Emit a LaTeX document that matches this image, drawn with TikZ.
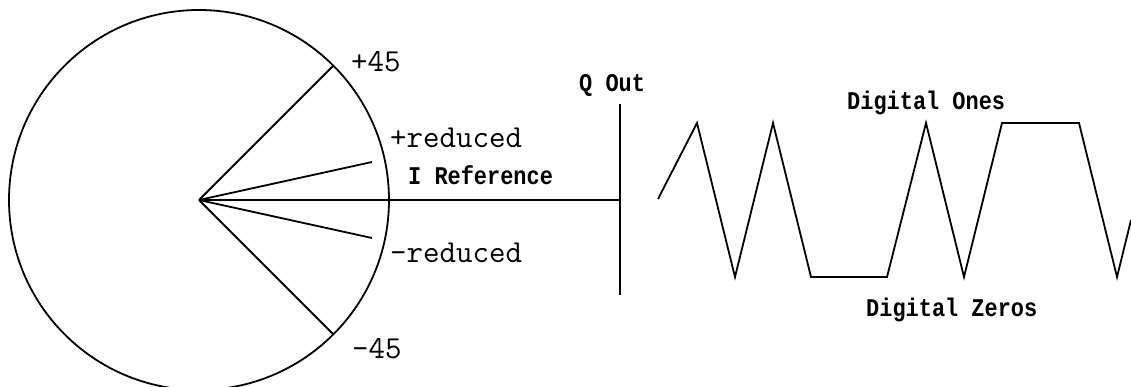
\documentclass[tikz,border=0pt]{standalone}
\usepackage{fontspec}
\usepackage{graphicx}
\newfontfamily\lblfont{Liberation Mono}
\newcommand{\narrowtxt}[1]{\scalebox{0.86}[1]{#1}}
\tikzset{
  wire/.style={line width=1.8pt, line join=miter},
  plainlbl/.style={anchor=base west, inner sep=0pt, font=\ttfamily\fontsize{32}{35}\selectfont},
  boldlbl/.style={anchor=base west, inner sep=0pt, font=\lblfont\bfseries\fontsize{25.5}{28}\selectfont},
}
\begin{document}
\begin{tikzpicture}[x=1pt,y=-1pt]
\useasboundingbox (0,0) rectangle (1131,387);
% phase circle
\coordinate (O) at (199,200);
\node[wire, draw, circle, minimum size=380pt, inner sep=0pt, outer sep=0pt] (C) at (O) {};
\coordinate (p45) at (C.45);
\coordinate (m45) at (C.-45);
\coordinate (pred) at (372,162);
\coordinate (mred) at (372,238);
\coordinate (Iend) at (620,200);
\coordinate (Qtop) at (620,104);
\coordinate (Qbot) at (620,295);
\draw[wire] (O) -- (p45);
\draw[wire] (O) -- (m45);
\draw[wire] (O) -- (pred);
\draw[wire] (O) -- (mred);
\draw[wire] (O) -- (Iend);
\draw[wire] (Qtop) -- (Qbot);
% labels
\node[plainlbl] (l45) at (351,72) {+45};
\node[plainlbl] (lpr) at (390,148) {+reduced};
\node[plainlbl] (lmr) at (390,262) {-reduced};
\node[plainlbl] (lm45) at (352,358) {-45};
\node[boldlbl] (lI) at (408,185) {\narrowtxt{I Reference}};
\node[boldlbl] (lQ) at (579,92) {\narrowtxt{Q Out}};
\node[boldlbl] (lOnes) at (847,110) {\narrowtxt{Digital Ones}};
\node[boldlbl] (lZeros) at (866,316) {\narrowtxt{Digital Zeros}};
% waveform
\coordinate (w0) at (658,199);
\coordinate (w1) at (697,123);
\coordinate (w2) at (735,277);
\coordinate (w3) at (773,123);
\coordinate (w4) at (811,277);
\coordinate (w5) at (887,277);
\coordinate (w6) at (926,123);
\coordinate (w7) at (964,277);
\coordinate (w8) at (1002,123);
\coordinate (w9) at (1079,123);
\coordinate (w10) at (1117,277);
\coordinate (w11) at (1131,220);
\draw[wire] (w0) -- (w1) -- (w2) -- (w3) -- (w4) -- (w5) -- (w6) -- (w7) -- (w8) -- (w9) -- (w10) -- (w11);
\end{tikzpicture}
\end{document}
